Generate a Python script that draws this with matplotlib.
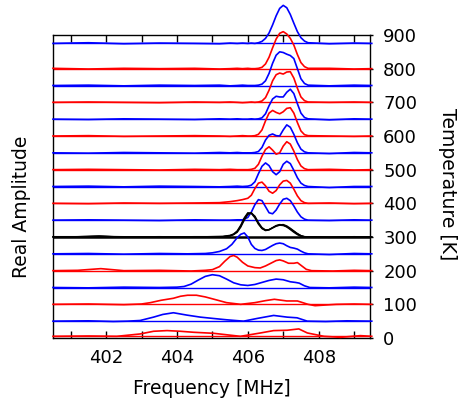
import matplotlib
matplotlib.use("Agg")
import matplotlib.pyplot as plt

# shared frequency grid for the upper spectra (350 K and above), MHz
freq_hi = [400.5, 401.5, 402.5, 403.5, 404.5, 405.2, 405.5, 405.7, 405.85, 406.0,
           406.1, 406.2, 406.3, 406.4, 406.5, 406.6, 406.7, 406.8, 406.9, 407.0,
           407.1, 407.2, 407.3, 407.4, 407.5, 407.6, 407.7, 408.3, 409.0, 409.5]

amp_875 = [0, 2, -1, 1, 0, -1, 1, 0, 1, 0, 1, 0, 2, 6, 15, 31, 55, 82, 104, 113,
           106, 86, 60, 35, 17, 7, 2, -1, 1, 0]
amp_800 = [1, -1, 1, 0, 1, -1, 0, 1, 0, 1, 0, 0, 1, 4, 14, 34, 62, 88, 105, 110,
           103, 90, 70, 42, 18, 6, 1, 1, -1, 0]
amp_750 = [0, 1, -1, 1, 0, 1, -1, 0, 1, 0, 0, 0, 1, 4, 14, 36, 66, 90, 100, 98,
           93, 89, 80, 50, 20, 6, 1, -1, 1, 0]
amp_700 = [0, 1, 0, -1, 1, 0, 1, 0, -1, 0, 1, 0, 1, 4, 14, 36, 64, 82, 87, 84,
           90, 91, 72, 42, 16, 5, 1, 0, 1, 0]
amp_650 = [0, -1, 1, 0, -1, 1, 0, 1, 0, 0, 1, 0, 1, 4, 16, 40, 60, 68, 66, 66,
           80, 89, 76, 46, 18, 5, 1, -2, 1, 0]
amp_600 = [0, 1, -1, 0, 1, 0, -1, 0, 1, 0, 0, 1, 5, 18, 45, 68, 76, 70, 66, 72,
           82, 84, 68, 40, 15, 4, 1, 0, -1, 0]
amp_550 = [0, -1, 1, 0, -1, 1, 0, 1, 0, 0, 0, 1, 4, 16, 38, 52, 56, 51, 50, 68,
           83, 76, 55, 30, 11, 3, 0, -2, 1, 0]
amp_500 = [0, 1, 0, -1, 1, 0, 1, 0, 0, 0, 1, 4, 16, 40, 60, 68, 58, 46, 50, 70,
           83, 76, 55, 30, 11, 3, 0, 1, -1, 0]
amp_450 = [0, 1, -1, 1, 0, -1, 0, 1, 0, 1, 4, 14, 38, 60, 70, 62, 44, 35, 44, 66,
           75, 68, 48, 26, 10, 3, 0, -3, 0, 0]
amp_400 = [0, -1, 1, 0, 1, 2, 5, 8, 11, 15, 24, 44, 60, 63, 52, 36, 30, 38, 55, 66,
           68, 60, 42, 22, 8, 2, 0, 1, -1, 0]
amp_350 = [0, 1, 0, -1, 1, 0, 0, 1, 1, 8, 24, 46, 61, 58, 40, 22, 19, 30, 48, 62,
           65, 58, 42, 24, 10, 3, 0, -1, 1, 0]

# 300 K: three overlapping black traces
freq_300 = [400.5, 401.2, 401.8, 402.4, 403.5, 404.5, 405.3, 405.5, 405.6, 405.7,
            405.8, 405.9, 406.0, 406.1, 406.2, 406.3, 406.4, 406.5, 406.6, 406.7,
            406.8, 406.9, 407.0, 407.1, 407.2, 407.3, 407.4, 407.5, 407.6, 408.3,
            409.0, 409.5]
amp_300a = [0, 1, 3, 0, 1, 0, 1, 4, 8, 16, 32, 54, 70, 72, 60, 40, 26, 20, 22, 28,
            34, 37, 36, 30, 22, 14, 7, 2, 0, -1, 1, 0]
amp_300b = [0, 0, 2, 1, 0, 1, 1, 3, 7, 14, 29, 50, 67, 71, 62, 43, 28, 21, 22, 27,
            33, 36, 37, 33, 26, 18, 10, 4, 1, 0, 0, 0]
amp_300c = [1, 1, 2, 0, 0, 0, 2, 5, 9, 18, 35, 57, 72, 70, 57, 38, 25, 19, 21, 27,
            32, 35, 34, 30, 24, 17, 10, 4, 1, -1, 0, 0]

freq_250 = [400.5, 401.5, 402.5, 403.5, 404.3, 404.8, 405.0, 405.2, 405.4, 405.55,
            405.7, 405.8, 405.9, 406.0, 406.1, 406.2, 406.3, 406.4, 406.5, 406.6,
            406.7, 406.8, 406.9, 407.0, 407.1, 407.2, 407.3, 407.4, 407.5, 407.6,
            407.7, 408.3, 409.0, 409.5]
amp_250 = [0, 1, -1, 1, 0, 1, 3, 7, 15, 28, 48, 58, 62, 50, 28, 16, 11, 10, 13, 19,
           25, 30, 32, 30, 24, 19, 17, 14, 8, 3, 0, -2, 1, 0]

freq_200 = [400.5, 401.2, 401.85, 402.5, 403.5, 404.4, 404.8, 405.0, 405.2, 405.35,
            405.5, 405.6, 405.7, 405.85, 406.0, 406.2, 406.35, 406.5, 406.65, 406.8,
            406.9, 407.0, 407.15, 407.3, 407.4, 407.5, 407.65, 407.8, 408.4, 409.0,
            409.5]
amp_200 = [0, 1, 6, 0, 1, -1, 1, 3, 12, 28, 42, 45, 40, 25, 14, 9, 8, 14, 22, 30,
           32, 29, 22, 22, 24, 16, 4, 0, -1, 1, 0]

freq_150 = [400.5, 401.5, 402.5, 403.5, 404.0, 404.2, 404.4, 404.6, 404.8, 405.0,
            405.2, 405.4, 405.6, 405.8, 406.0, 406.2, 406.4, 406.6, 406.8, 407.0,
            407.2, 407.35, 407.45, 407.6, 407.75, 408.3, 409.0, 409.5]
amp_150 = [0, -1, 1, 0, 1, 3, 10, 22, 33, 38, 35, 25, 14, 8, 6, 9, 15, 21, 25, 23,
           17, 15, 13, 5, 0, -1, 1, 0]

freq_100 = [400.5, 401.5, 402.5, 403.0, 403.25, 403.55, 403.9, 404.1, 404.3, 404.55,
            404.8, 405.05, 405.4, 405.8, 406.2, 406.5, 406.75, 407.1, 407.4, 407.7,
            407.9, 408.2, 408.5, 409.0, 409.5]
amp_100 = [0, 1, -1, 1, 5, 12, 18, 24, 27, 27, 22, 15, 5, 0, 5, 11, 15, 10, 10, 0,
           -4, -2, 0, 1, 0]

freq_50 = [400.5, 401.5, 402.2, 402.6, 402.96, 403.34, 403.6, 403.9, 404.28, 404.66,
           405.03, 405.41, 405.88, 406.26, 406.73, 407.11, 407.39, 407.68, 408.2,
           408.8, 409.5]
amp_50 = [0, 1, -1, 0, 2, 12, 20, 25, 18, 12, 8, 4, 0, 8, 17, 12, 10, 0, -1, 1, 0]

freq_5 = [400.5, 401.5, 402.3, 402.96, 403.34, 403.72, 404.09, 404.47, 405.03,
          405.79, 406.36, 406.73, 407.11, 407.44, 407.68, 408.15, 408.62, 409.18,
          409.5]
amp_5 = [0, 1, 0, 7, 15, 17, 15, 12, 9, 0, 10, 17, 18, 22, 10, 0, -3, 2, 0]

temp_ticks = [0, 100, 200, 300, 400, 500, 600, 700, 800, 900]
freq_ticks = [401, 402, 403, 404, 405, 406, 407, 408, 409]

RED = "#ff0000"
BLUE = "#0000ff"

spectra = [
    (875, freq_hi, amp_875, BLUE), (800, freq_hi, amp_800, RED),
    (750, freq_hi, amp_750, BLUE), (700, freq_hi, amp_700, RED),
    (650, freq_hi, amp_650, BLUE), (600, freq_hi, amp_600, RED),
    (550, freq_hi, amp_550, BLUE), (500, freq_hi, amp_500, RED),
    (450, freq_hi, amp_450, BLUE), (400, freq_hi, amp_400, RED),
    (350, freq_hi, amp_350, BLUE),
    (250, freq_250, amp_250, BLUE), (200, freq_200, amp_200, RED),
    (150, freq_150, amp_150, BLUE), (100, freq_100, amp_100, RED),
    (50, freq_50, amp_50, BLUE), (5, freq_5, amp_5, RED),
]

fig = plt.figure(figsize=(4.66, 4.07), dpi=100)
ax = fig.add_axes([53 / 466, 1 - 338 / 407, (370 - 53) / 466, (338 - 35) / 407])

for temp, f, a, col in spectra:
    ax.axhline(temp, color=col, lw=1.0, zorder=2)
    ax.plot(f, [temp + v for v in a], color=col, lw=1.2, clip_on=False, zorder=3)

ax.axhline(300, color="black", lw=1.8, zorder=2)
for a in (amp_300a, amp_300b, amp_300c):
    ax.plot(freq_300, [300 + v for v in a], color="black", lw=1.0,
            clip_on=False, zorder=3)

ax.set_xlim(400.5, 409.45)
ax.set_ylim(0, 900)

ax.set_xticks(freq_ticks)
ax.set_xticklabels([str(t) if t % 2 == 0 else "" for t in freq_ticks])
ax.tick_params(axis="x", direction="in", length=5, width=1, top=True,
               pad=8, labelsize=13)

ax.yaxis.tick_right()
ax.set_yticks(temp_ticks)
ax.set_yticklabels([str(t) for t in temp_ticks])
ax.tick_params(axis="y", direction="out", length=2.5, width=1, pad=7,
               labelsize=13)

for sp in ax.spines.values():
    sp.set_linewidth(1.0)

fig.text(211.5 / 466, 1 - 388 / 407, "Frequency [MHz]", ha="center", va="center",
         fontsize=13.5)
fig.text(22 / 466, 1 - 207 / 407, "Real Amplitude", ha="center", va="center",
         rotation=90, fontsize=13.5)
fig.text(448 / 466, 1 - 184 / 407, "Temperature [K]", ha="center", va="center",
         rotation=-90, fontsize=13.5)

fig.savefig("out.png", dpi=100)
